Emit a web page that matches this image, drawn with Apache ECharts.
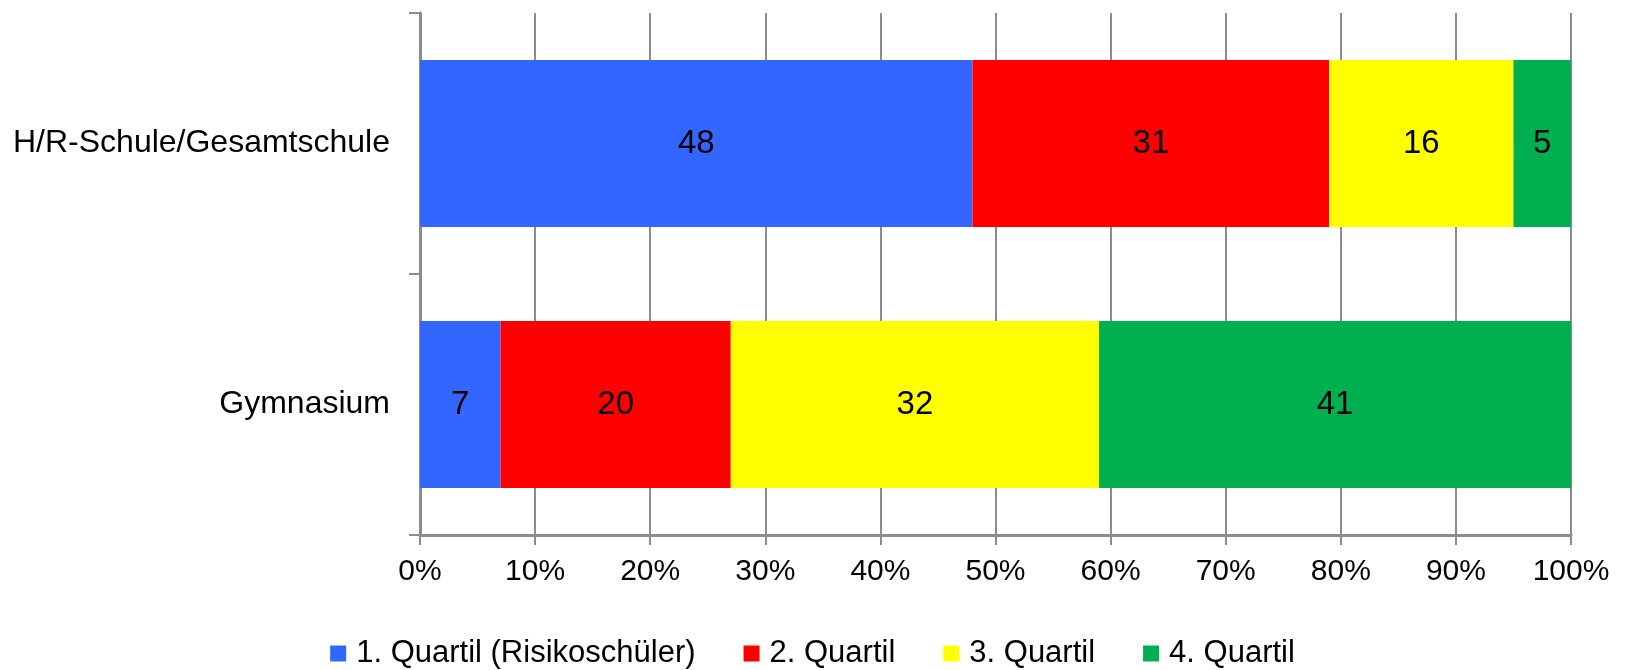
<!DOCTYPE html>
<html><head><meta charset="utf-8">
<script src="https://cdn.jsdelivr.net/npm/echarts@6/dist/echarts.min.js"></script>
<style>html,body{margin:0;padding:0;background:#fff}#c{width:1625px;height:670px}</style>
</head><body><div id="c"></div>
<script>
const categories = ['H/R-Schule/Gesamtschule', 'Gymnasium'];
const seriesNames = ['1. Quartil (Risikoschüler)', '2. Quartil', '3. Quartil', '4. Quartil'];
const q1 = [48, 7];
const q2 = [31, 20];
const q3 = [16, 32];
const q4 = [5, 41];
const colors = ['#3366FF', '#FF0000', '#FFFF00', '#00B050'];

const font = 'Liberation Sans, Arial, sans-serif';
const values = [q1, q2, q3, q4];
const chart = echarts.init(document.getElementById('c'));
chart.setOption({
  animation: false,
  grid: {left: 420, right: 54, top: 13, bottom: 135},
  legend: {
    top: 633, left: 'center', itemWidth: 16, itemHeight: 16, itemGap: 48,
    icon: 'rect',
    textStyle: {fontFamily: font, fontSize: 31, color: '#000', padding: [0, 0, 0, 5]},
    data: seriesNames
  },
  xAxis: {
    type: 'value', min: 0, max: 100, interval: 10,
    axisLine: {show: true, lineStyle: {color: '#8c8c8c', width: 3}},
    axisTick: {show: true, length: 10, lineStyle: {color: '#8c8c8c', width: 2}},
    splitLine: {show: true, lineStyle: {color: '#8c8c8c', width: 2}},
    axisLabel: {margin: 22, fontFamily: font, fontSize: 30, color: '#000',
      formatter: v => v + '%'}
  },
  yAxis: {
    type: 'category', inverse: true, data: categories,
    axisLine: {show: true, lineStyle: {color: '#8c8c8c', width: 3}},
    axisTick: {show: true, length: 11, lineStyle: {color: '#8c8c8c', width: 2}},
    axisLabel: {margin: 30, fontFamily: font, fontSize: 32, color: '#000'}
  },
  series: seriesNames.map((n, i) => ({
    name: n, type: 'bar', stack: 'total', barWidth: 167,
    itemStyle: {color: colors[i]},
    label: {show: true, position: 'inside', fontFamily: font, fontSize: 33, color: '#000'},
    data: values[i]
  }))
});
</script></body></html>
